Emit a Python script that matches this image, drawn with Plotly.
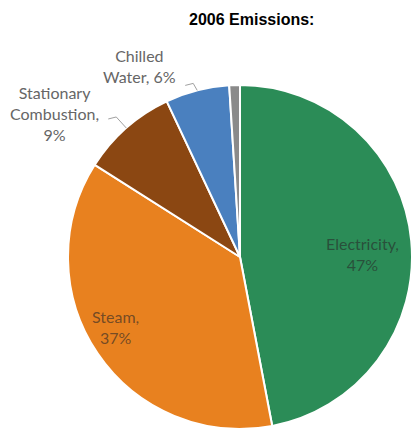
import math
import plotly.graph_objects as go

# Emission sources, in drawing order (clockwise from 12 o'clock)
categories = ["Electricity", "Steam", "Stationary Combustion", "Chilled Water", "Other"]
shares = [47, 37, 9, 6, 1]
label_text = ["Electricity,<br>47%", "Steam,<br>37%", "Stationary<br>Combustion,<br>9%",
              "Chilled<br>Water, 6%", ""]
colors = ["#2B8C57", "#E8811F", "#8B4712", "#4A80BF", "#8A8A8A"]

W, H = 412, 430
# pie placement in pixels
CX, CY, R = 240, 257, 172

# label placement: (radius fraction, angle tweak in degrees, inside?)
label_place = {
    "Electricity": (0.71, 4.0, True),
    "Steam": (0.83, 4.7, True),
    "Stationary Combustion": (1.36, -10.9, False),
    "Chilled Water": (1.256, -13.2, False),
}
# leader line elbows relative to the slice edge point (dx, dy px), plus horizontal run
leader_place = {
    "Stationary Combustion": ((-10, -11), -8),
    "Chilled Water": ((-4, -7), -8),
}


def px_to_paper(x, y):
    return x / W, 1 - y / H


def polar(frac, ang_deg):
    a = math.radians(ang_deg)
    return CX + frac * R * math.sin(a), CY - frac * R * math.cos(a)


total = sum(shares)
bisectors = {}
acc = 0
for c, v in zip(categories, shares):
    bisectors[c] = (acc + v / 2) / total * 360
    acc += v

fig = go.Figure(go.Pie(
    labels=categories,
    values=shares,
    sort=False,
    direction="clockwise",
    rotation=0,
    marker=dict(colors=colors, line=dict(color="white", width=2)),
    textinfo="none",
    hoverinfo="label+percent",
    showlegend=False,
    domain=dict(x=[(CX - R) / W, min(1.0, (CX + R) / W)],
                y=[(H - (CY + R)) / H, (H - (CY - R)) / H]),
))

annotations = [dict(
    text="<b>2006 Emissions:</b>", x=252 / W, y=1 - 20 / H, xref="paper", yref="paper",
    showarrow=False, font=dict(family="Liberation Sans, Arial", size=16, color="#000000"),
    xanchor="center", yanchor="middle")]

shapes = []
for c, txt in zip(categories, label_text):
    if c not in label_place:
        continue
    frac, tweak, inside = label_place[c]
    lx, ly = polar(frac, bisectors[c] + tweak)
    x, y = px_to_paper(lx, ly)
    annotations.append(dict(
        text=txt, x=x, y=y, xref="paper", yref="paper", showarrow=False,
        xanchor="center", yanchor="middle", align="center",
        font=dict(family="Lato, Open Sans", size=16,
                  color="rgba(40,40,40,0.62)" if inside else "#666666")))
    if c in leader_place:
        (ex, ey), run = leader_place[c]
        sx, sy = polar(1.0, bisectors[c])
        bx, by = sx + ex, sy + ey
        ax, ay = bx + run, by + 2
        pts = [px_to_paper(*p) for p in [(ax, ay), (bx, by), (sx, sy)]]
        shapes.append(dict(
            type="path", xref="paper", yref="paper",
            path="M {} {} L {} {} L {} {}".format(*[v for p in pts for v in p]),
            line=dict(color="#A0A0A0", width=1)))

fig.update_layout(
    width=W, height=H,
    margin=dict(l=0, r=0, t=0, b=0),
    paper_bgcolor="white", plot_bgcolor="white",
    annotations=annotations, shapes=shapes,
)

fig.write_html("out.html")
